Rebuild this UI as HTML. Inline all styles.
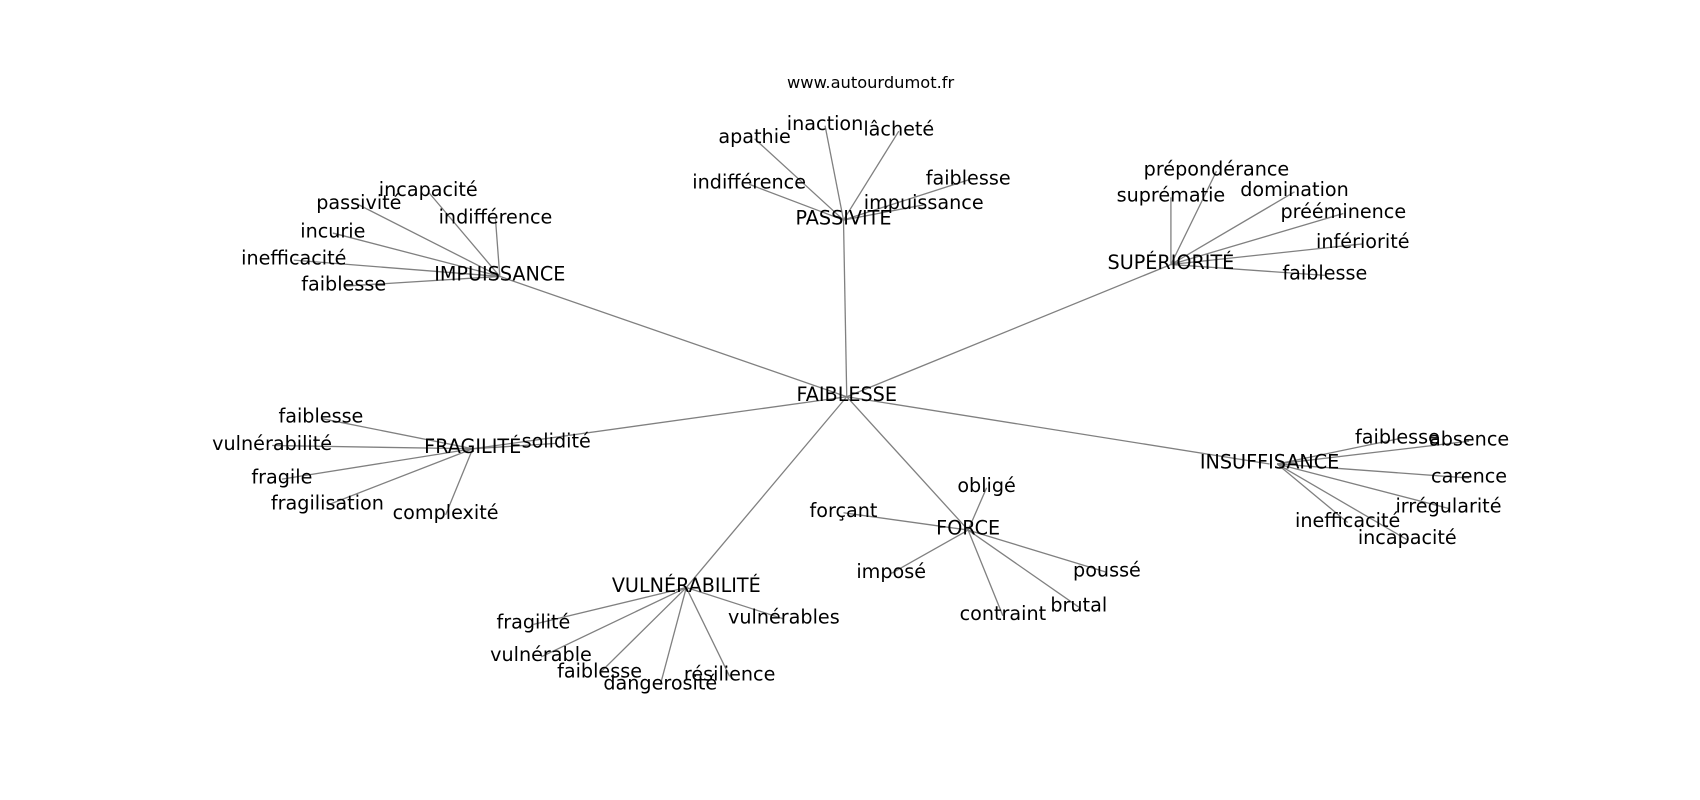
<!DOCTYPE html>
<html><head><meta charset="utf-8"><style>
html,body{margin:0;padding:0;background:#fff;width:1700px;height:800px;overflow:hidden}
svg text{font-family:"DejaVu Sans","Liberation Sans",sans-serif;font-size:17.7px;fill:#000;text-anchor:middle;dominant-baseline:central}
</style></head><body>
<svg width="1700" height="800" viewBox="0 0 1568 738" preserveAspectRatio="none" xmlns="http://www.w3.org/2000/svg">
<g stroke="#808080" stroke-width="1.2" fill="none">
<line x1="781" y1="366" x2="461" y2="255"/>
<line x1="781" y1="366" x2="778" y2="203"/>
<line x1="781" y1="366" x2="1080" y2="244"/>
<line x1="781" y1="366" x2="436" y2="414"/>
<line x1="781" y1="366" x2="1171" y2="428"/>
<line x1="781" y1="366" x2="893" y2="489"/>
<line x1="781" y1="366" x2="633" y2="542"/>
<line x1="461" y1="255" x2="395" y2="177"/>
<line x1="461" y1="255" x2="331" y2="189"/>
<line x1="461" y1="255" x2="457" y2="202"/>
<line x1="461" y1="255" x2="307" y2="215"/>
<line x1="461" y1="255" x2="271" y2="240"/>
<line x1="461" y1="255" x2="317" y2="264"/>
<line x1="778" y1="203" x2="696" y2="128"/>
<line x1="778" y1="203" x2="761" y2="116"/>
<line x1="778" y1="203" x2="829" y2="121"/>
<line x1="778" y1="203" x2="691" y2="170"/>
<line x1="778" y1="203" x2="893" y2="166"/>
<line x1="778" y1="203" x2="852" y2="189"/>
<line x1="1080" y1="244" x2="1122" y2="158"/>
<line x1="1080" y1="244" x2="1080" y2="182"/>
<line x1="1080" y1="244" x2="1194" y2="177"/>
<line x1="1080" y1="244" x2="1239" y2="197"/>
<line x1="1080" y1="244" x2="1257" y2="225"/>
<line x1="1080" y1="244" x2="1222" y2="254"/>
<line x1="436" y1="414" x2="296" y2="386"/>
<line x1="436" y1="414" x2="251" y2="411"/>
<line x1="436" y1="414" x2="513" y2="409"/>
<line x1="436" y1="414" x2="260" y2="442"/>
<line x1="436" y1="414" x2="302" y2="466"/>
<line x1="436" y1="414" x2="411" y2="475"/>
<line x1="1178" y1="428" x2="1289" y2="405"/>
<line x1="1178" y1="428" x2="1355" y2="407"/>
<line x1="1178" y1="428" x2="1355" y2="441"/>
<line x1="1178" y1="428" x2="1336" y2="469"/>
<line x1="1178" y1="428" x2="1243" y2="482"/>
<line x1="1178" y1="428" x2="1298" y2="498"/>
<line x1="893" y1="489" x2="910" y2="450"/>
<line x1="893" y1="489" x2="778" y2="473"/>
<line x1="893" y1="489" x2="822" y2="529"/>
<line x1="893" y1="489" x2="1021" y2="528"/>
<line x1="893" y1="489" x2="995" y2="560"/>
<line x1="893" y1="489" x2="925" y2="568"/>
<line x1="633" y1="542" x2="492" y2="576"/>
<line x1="633" y1="542" x2="723" y2="571"/>
<line x1="633" y1="542" x2="499" y2="606"/>
<line x1="633" y1="542" x2="553" y2="621"/>
<line x1="633" y1="542" x2="609" y2="632"/>
<line x1="633" y1="542" x2="673" y2="624"/>
</g>
<text x="803" y="76" style="font-size:15px">www.autourdumot.fr</text>
<text x="781" y="364">FAIBLESSE</text>
<text x="461" y="253">IMPUISSANCE</text>
<text x="395" y="175">incapacité</text>
<text x="331" y="187">passivité</text>
<text x="457" y="200">indifférence</text>
<text x="307" y="213">incurie</text>
<text x="271" y="238">inefficacité</text>
<text x="317" y="262">faiblesse</text>
<text x="778" y="201">PASSIVITÉ</text>
<text x="696" y="126">apathie</text>
<text x="761" y="114">inaction</text>
<text x="829" y="119">lâcheté</text>
<text x="691" y="168">indifférence</text>
<text x="893" y="164">faiblesse</text>
<text x="852" y="187">impuissance</text>
<text x="1080" y="242">SUPÉRIORITÉ</text>
<text x="1122" y="156">prépondérance</text>
<text x="1080" y="180">suprématie</text>
<text x="1194" y="175">domination</text>
<text x="1239" y="195">prééminence</text>
<text x="1257" y="223">infériorité</text>
<text x="1222" y="252">faiblesse</text>
<text x="436" y="412">FRAGILITÉ</text>
<text x="296" y="384">faiblesse</text>
<text x="251" y="409">vulnérabilité</text>
<text x="513" y="407">solidité</text>
<text x="260" y="440">fragile</text>
<text x="302" y="464">fragilisation</text>
<text x="411" y="473">complexité</text>
<text x="1171" y="426">INSUFFISANCE</text>
<text x="1289" y="403">faiblesse</text>
<text x="1355" y="405">absence</text>
<text x="1355" y="439">carence</text>
<text x="1336" y="467">irrégularité</text>
<text x="1243" y="480">inefficacité</text>
<text x="1298" y="496">incapacité</text>
<text x="893" y="487">FORCE</text>
<text x="910" y="448">obligé</text>
<text x="778" y="471">forçant</text>
<text x="822" y="527">imposé</text>
<text x="1021" y="526">poussé</text>
<text x="995" y="558">brutal</text>
<text x="925" y="566">contraint</text>
<text x="633" y="540">VULNÉRABILITÉ</text>
<text x="492" y="574">fragilité</text>
<text x="723" y="569">vulnérables</text>
<text x="499" y="604">vulnérable</text>
<text x="553" y="619">faiblesse</text>
<text x="609" y="630">dangerosité</text>
<text x="673" y="622">résilience</text>
</svg>
</body></html>
